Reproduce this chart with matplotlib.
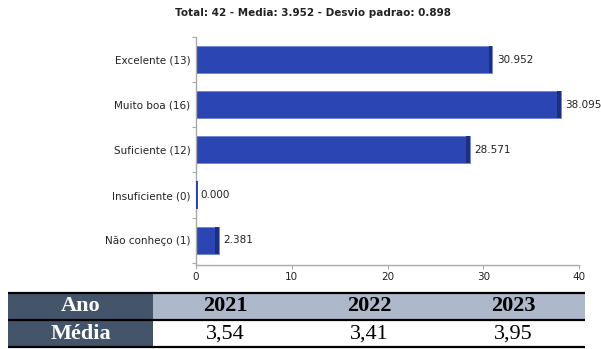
import matplotlib
matplotlib.use("Agg")
import matplotlib.pyplot as plt
from matplotlib.patches import Rectangle

categories = ["Excelente (13)", "Muito boa (16)", "Suficiente (12)", "Insuficiente (0)", "Não conheço (1)"]
values = [30.952, 38.095, 28.571, 0.000, 2.381]
title = "Total: 42 - Media: 3.952 - Desvio padrao: 0.898"
xticks = [0, 10, 20, 30, 40]
years = ["2021", "2022", "2023"]
medias = ["3,54", "3,41", "3,95"]

W, H = 601, 349
fig = plt.figure(figsize=(W / 100, H / 100), dpi=100)
fig.patch.set_facecolor("white")

main_c = "#2B45B2"
dark_c = "#1E2F82"
edge_c = "#6F82D0"
fs = 7.5

ax = fig.add_axes([196 / W, 1 - 265 / H, 383 / W, (265 - 37) / H])
ypos = list(range(len(categories)))
ax.barh(ypos, values, height=0.6, color=main_c, edgecolor=edge_c, linewidth=0.6, zorder=2)
strip = [min(0.4, v) for v in values]
ax.barh(ypos, strip, left=[v - s for v, s in zip(values, strip)], height=0.6, color=dark_c, linewidth=0, zorder=3)
for y, v in zip(ypos, values):
    if v == 0:
        ax.barh(y, 0.25, height=0.6, color=main_c, linewidth=0, zorder=3)
    ax.text(v + 0.45, y, f"{v:.3f}", va="center", ha="left", fontsize=fs, color="#222222")

ax.set_xlim(0, 40)
ax.set_ylim(4.55, -0.45)
ax.set_xticks(xticks)
ax.set_xticklabels([str(t) for t in xticks], fontsize=fs, color="#222222")
ax.set_yticks(ypos)
ax.set_yticklabels(categories, fontsize=fs, color="#222222")
ax.tick_params(axis="y", length=0, pad=4)
ax.set_yticks([y - 0.5 for y in ypos] + [4.5], minor=True)
ax.tick_params(axis="y", which="minor", length=3, color="#aaaaaa", width=0.8)
ax.tick_params(axis="x", length=3, color="#aaaaaa", width=0.8, pad=2)
for s in ["top", "right"]:
    ax.spines[s].set_visible(False)
for s in ["left", "bottom"]:
    ax.spines[s].set_color("#aaaaaa")
    ax.spines[s].set_linewidth(1.0)

fig.text(313 / W, 1 - 13 / H, title, ha="center", va="center", fontsize=7.5, fontweight="bold", color="#222222")

# table
tx0, tx1, ty0, ty1 = 8, 585, 292, 348
axt = fig.add_axes([tx0 / W, 1 - ty1 / H, (tx1 - tx0) / W, (ty1 - ty0) / H])
axt.set_xlim(0, 1)
axt.set_ylim(0, 2)
axt.axis("off")
c0 = (153 - tx0) / (tx1 - tx0)
cw = (1 - c0) / 3
dark_t = "#44546A"
light_t = "#ADB9CA"
axt.add_patch(Rectangle((0, 0), c0, 2, facecolor=dark_t, edgecolor="none"))
axt.add_patch(Rectangle((c0, 1), 1 - c0, 1, facecolor=light_t, edgecolor="none"))
serif = ["Liberation Serif", "DejaVu Serif"]
axt.text(c0 / 2, 1.5, "Ano", ha="center", va="center", fontsize=16, fontweight="bold", color="white", family=serif)
axt.text(c0 / 2, 0.5, "Média", ha="center", va="center", fontsize=16, fontweight="bold", color="white", family=serif)
for i, (yr, m) in enumerate(zip(years, medias)):
    cx = c0 + cw * (i + 0.5)
    axt.text(cx, 1.5, yr, ha="center", va="center", fontsize=16, fontweight="bold", color="black", family=serif)
    axt.text(cx, 0.5, m, ha="center", va="center", fontsize=16, color="black", family=serif)
for yl in [0.02, 1.0, 1.98]:
    axt.plot([0, 1], [yl, yl], color="black", linewidth=1.6, solid_capstyle="butt", clip_on=False)

fig.savefig("out.png", dpi=100, facecolor="white")
